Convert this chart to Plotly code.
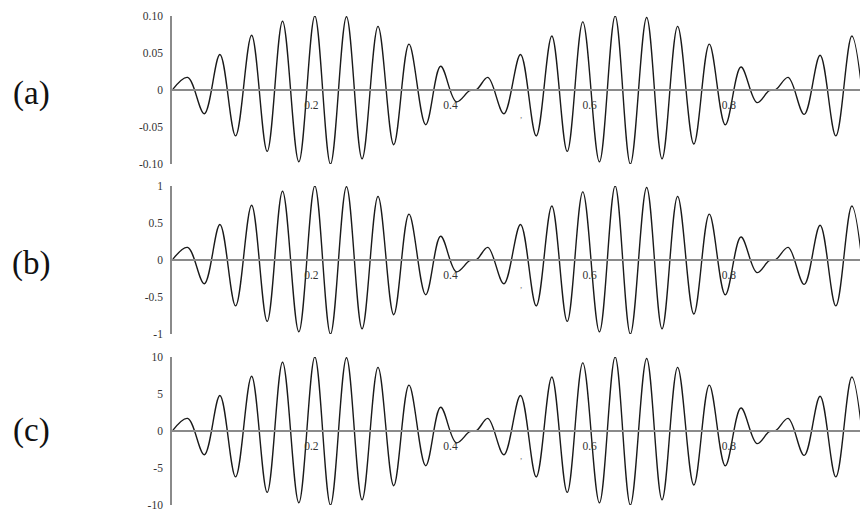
import plotly.graph_objects as go

# ---- data (extrema and near-zero points) ----
x_pts = [0, 0.0222, 0.0461, 0.0686, 0.0911, 0.1141, 0.1365, 0.1586, 0.1820, 0.2050,
         0.2275, 0.2505, 0.2729, 0.2958, 0.3184, 0.3403, 0.3643, 0.3858, 0.4084,
         0.4275, 0.4379,
         0.4537, 0.4767, 0.5006, 0.5232, 0.5456, 0.5677, 0.5901, 0.6140, 0.6366,
         0.6585, 0.6819, 0.7040, 0.7264, 0.7497, 0.7719, 0.7949, 0.8174, 0.8404,
         0.8580, 0.8680,
         0.8853, 0.9083, 0.9312, 0.9538, 0.9768, 1.0]

y_a = [0, 0.017, -0.032, 0.048, -0.062, 0.074, -0.083, 0.093, -0.097, 0.100,
       -0.100, 0.099, -0.093, 0.086, -0.074, 0.062, -0.047, 0.032, -0.016,
       -0.001, 0.001,
       0.017, -0.032, 0.048, -0.062, 0.073, -0.083, 0.092, -0.097, 0.100,
       -0.100, 0.098, -0.093, 0.086, -0.073, 0.062, -0.047, 0.031, -0.017,
       -0.001, 0.001,
       0.017, -0.033, 0.047, -0.062, 0.073, -0.083]

y_b = [0, 0.17, -0.32, 0.48, -0.62, 0.74, -0.83, 0.93, -0.97, 1.00,
       -1.00, 0.99, -0.93, 0.86, -0.74, 0.62, -0.47, 0.32, -0.16,
       -0.01, 0.01,
       0.17, -0.32, 0.48, -0.62, 0.73, -0.83, 0.92, -0.97, 1.00,
       -1.00, 0.98, -0.93, 0.86, -0.73, 0.62, -0.47, 0.31, -0.17,
       -0.01, 0.01,
       0.17, -0.33, 0.47, -0.62, 0.73, -0.83]

y_c = [0, 1.7, -3.2, 4.8, -6.2, 7.4, -8.3, 9.3, -9.7, 10.0,
       -10.0, 9.9, -9.3, 8.6, -7.4, 6.2, -4.7, 3.2, -1.6,
       -0.1, 0.1,
       1.7, -3.2, 4.8, -6.2, 7.3, -8.3, 9.2, -9.7, 10.0,
       -10.0, 9.8, -9.3, 8.6, -7.3, 6.2, -4.7, 3.1, -1.7,
       -0.1, 0.1,
       1.7, -3.3, 4.7, -6.2, 7.3, -8.3]

x_tickvals = [0.2, 0.4, 0.6, 0.8]
x_ticktext = ["0.2", "0.4", "0.6", "0.8"]

ya_vals = [0.10, 0.05, 0, -0.05, -0.10]
ya_text = ["0.10", "0.05", "0", "-0.05", "-0.10"]
yb_vals = [1, 0.5, 0, -0.5, -1]
yb_text = ["1", "0.5", "0", "-0.5", "-1"]
yc_vals = [10, 5, 0, -5, -10]
yc_text = ["10", "5", "0", "-5", "-10"]

panel_labels = ["(a)", "(b)", "(c)"]
panels = [(y_a, ya_vals, ya_text, 0.10), (y_b, yb_vals, yb_text, 1.0), (y_c, yc_vals, yc_text, 10.0)]

# ---- layout geometry (page body adds an 8px offset, so work in shifted pixels) ----
OFF = 8
W, H = 868 - OFF, 516 - OFF
x_dom = [(172.2 - OFF) / W, 1.0]
y_px = [(16, 164), (186, 334), (357, 505)]  # top, bottom pixel of each panel range (window coords)
label_y_px = [93, 263, 430]
label_x_px = 31

tick_font = dict(family="Liberation Serif, Times New Roman, serif", size=11.5, color="#333")
axis_col = "#8a8a8a"

fig = go.Figure()
layout = dict(template="none", width=W, height=H,
              margin=dict(l=0, r=0, t=0, b=0, pad=0, autoexpand=False),
              paper_bgcolor="white", plot_bgcolor="white", showlegend=False)

annotations = []
for i, (ys, yv, yt, rng) in enumerate(panels):
    n = "" if i == 0 else str(i + 1)
    top, bot = y_px[i][0] - OFF, y_px[i][1] - OFF
    dom = [1 - bot / H, 1 - top / H]
    zero_pos = 1 - (top + bot) / 2 / H
    fig.add_trace(go.Scatter(x=x_pts, y=ys, mode="lines",
                             line=dict(color="#1a1a1a", width=1.4, shape="spline", smoothing=1.0),
                             xaxis="x" + n, yaxis="y" + n, hoverinfo="skip"))
    layout["xaxis" + n] = dict(domain=x_dom, range=[0, 1], anchor="free", position=zero_pos,
                               automargin=False, showgrid=False, zeroline=False, showline=True,
                               linecolor=axis_col, linewidth=2, ticks="",
                               tickvals=x_tickvals, ticktext=x_ticktext,
                               tickfont=tick_font, ticklabelstandoff=4)
    layout["yaxis" + n] = dict(domain=dom, range=[-rng, rng], anchor="x" + n,
                               automargin=False, showgrid=False, zeroline=False, showline=True,
                               linecolor=axis_col, linewidth=2, ticks="",
                               tickvals=yv, ticktext=yt, tickfont=tick_font,
                               ticklabelstandoff=5)
    annotations.append(dict(text=panel_labels[i], xref="paper", yref="paper",
                            x=(label_x_px - OFF) / W, y=1 - (label_y_px[i] - OFF) / H,
                            xanchor="center", yanchor="middle", showarrow=False,
                            font=dict(family="Liberation Serif, Times New Roman, serif",
                                      size=33, color="#111")))
    # small stray mark in the scan near x=0.5
    annotations.append(dict(text=",", xref="x" + n, yref="y" + n, x=0.502, y=-0.34 * rng,
                            showarrow=False, font=dict(family="Liberation Serif", size=9, color="#777")))

layout["annotations"] = annotations
fig.update_layout(**layout)
fig.write_html("out.html")
